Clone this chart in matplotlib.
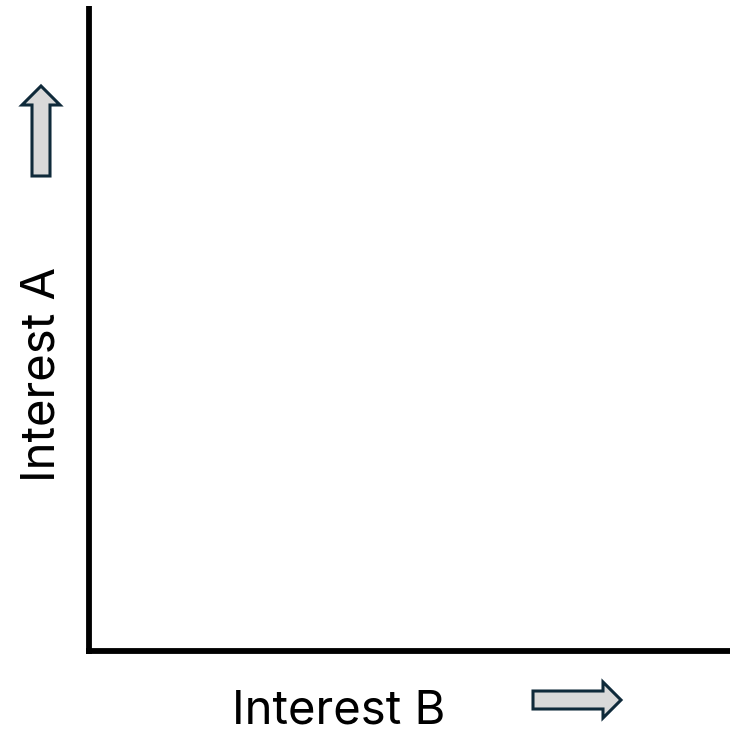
import matplotlib.pyplot as plt
from matplotlib.patches import Polygon

# labels of the (empty) two-axis chart
x_label = "Interest B"
y_label = "Interest A"

W, H = 730, 733
fig = plt.figure(figsize=(W / 100, H / 100), dpi=100)
ax = fig.add_axes([0, 0, 1, 1])
ax.set_xlim(0, W)
ax.set_ylim(H, 0)
ax.axis("off")

# axes lines (pixel coordinates of the canvas)
ax.plot([89, 89], [6, 654], color="black", lw=4.2, solid_capstyle="butt")
ax.plot([86, 730], [651, 651], color="black", lw=4.2, solid_capstyle="butt")

# up arrow next to the vertical axis
up = [(32, 176), (50, 176), (50, 105), (60, 105), (41, 86), (22, 105), (32, 105)]
ax.add_patch(Polygon(up, closed=True, facecolor="#d9d9d9", edgecolor="#0f2a3a", lw=2.2))

# right arrow next to the horizontal axis
right = [(533, 691), (603, 691), (603, 682), (621, 700), (603, 718), (603, 709), (533, 709)]
ax.add_patch(Polygon(right, closed=True, facecolor="#d9d9d9", edgecolor="#0f2a3a", lw=2.2))

ax.text(339, 723, x_label, fontsize=34, family="Inter", ha="center", va="baseline")
ax.text(55, 374, y_label, fontsize=34, family="Inter", ha="center", va="baseline",
        rotation=90, rotation_mode="anchor")

fig.savefig("out.png", dpi=100)
